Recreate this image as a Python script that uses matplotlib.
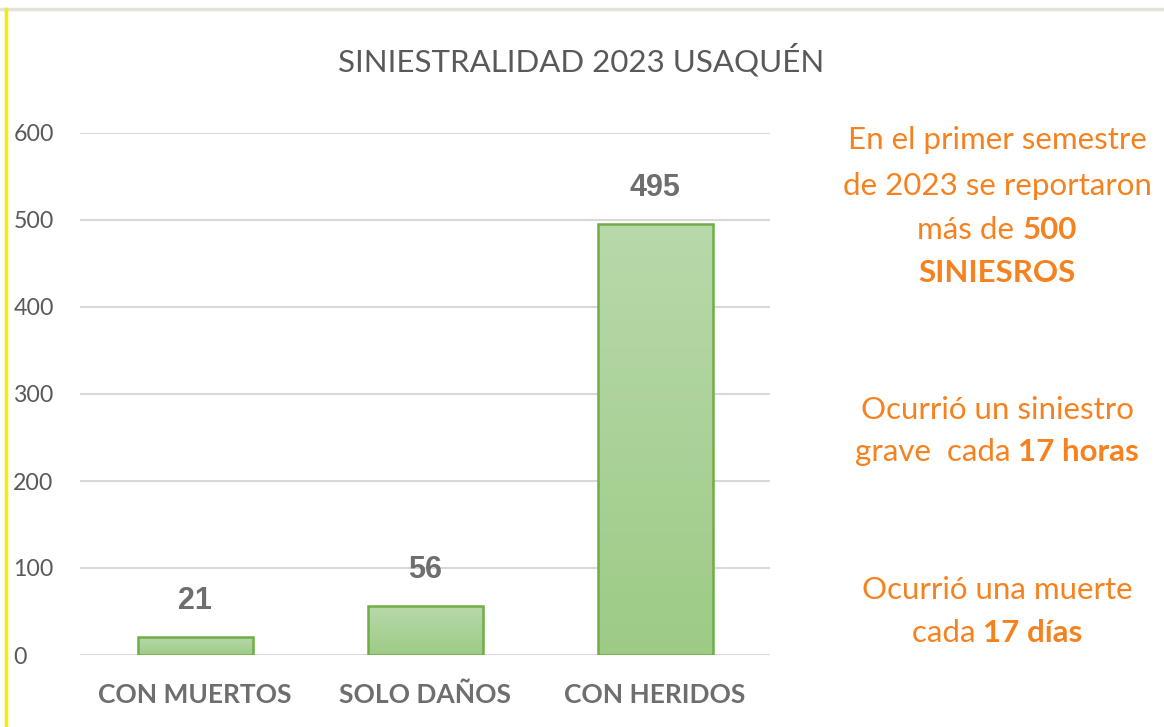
import numpy as np
import matplotlib.pyplot as plt
from matplotlib.lines import Line2D
from matplotlib.colors import LinearSegmentedColormap

categories = ['CON MUERTOS', 'SOLO DAÑOS', 'CON HERIDOS']
values = [21, 56, 495]
yticks = [0, 100, 200, 300, 400, 500, 600]
title = 'SINIESTRALIDAD 2023 USAQUÉN'

# right side notes: list of lines, each line a list of (text, bold)
notes = [
    [('En el primer semestre', False)],
    [('de 2023 se reportaron', False)],
    [('más de ', False), ('500', True)],
    [('SINIESROS', True)],
    [('Ocurrió un siniestro', False)],
    [('grave  cada ', False), ('17 horas', True)],
    [('Ocurrió una muerte', False)],
    [('cada ', False), ('17 días', True)],
]
note_y = [140, 186, 230, 273, 410, 452, 590, 633]  # pixel centres from top

gray = '#595959'
orange = '#F5821F'
font = 'Lato'

fig = plt.figure(figsize=(11.64, 7.27), dpi=100)
W, H = 1164, 727
ax = fig.add_axes([80 / W, 72 / H, 690 / W, 522 / H])

x = np.arange(len(categories))
bars = ax.bar(x, values, width=0.5, color='none', edgecolor='#70AD47', linewidth=1.8, zorder=3)

cmap = LinearSegmentedColormap.from_list('g', ['#9DCB86', '#B8D9AA'])
grad = np.linspace(0, 1, 256).reshape(-1, 1)
for b in bars:
    x0, y0 = b.get_x(), b.get_y()
    im = ax.imshow(grad, cmap=cmap, origin='lower', aspect='auto',
                   extent=[x0, x0 + b.get_width(), y0, y0 + b.get_height()], zorder=2)
    im.set_clip_path(b)
ax.set_xlim(-0.5, 2.5)
ax.set_ylim(0, 600)

for xi, v in zip(x, values):
    ax.annotate(str(v), (xi, v), xytext=(0, 36), textcoords='offset pixels',
                ha='center', va='center', fontsize=22, fontweight='bold',
                color='#6E6E6E', family='Liberation Sans')

ax.set_yticks(yticks)
ax.yaxis.grid(True, color='#D9D9D9', linewidth=1.5, zorder=0)
ax.set_axisbelow(True)
for s in ax.spines.values():
    s.set_visible(False)
ax.tick_params(length=0)
ax.tick_params(axis='y', pad=48, labelsize=16.7, labelcolor=gray)
for lab in ax.get_yticklabels():
    lab.set_horizontalalignment('left')
    lab.set_family(font)
ax.set_xticks(x)
ax.set_xticklabels(categories, fontsize=19, fontweight='bold', color='#6E6E6E', family=font)
ax.tick_params(axis='x', pad=20)

fig.text(581 / W, 1 - 60 / H, title, ha='center', va='center', fontsize=22.5,
         color=gray, family=font)

# frame decorations
fig.add_artist(Line2D([0, 1], [1 - 9 / H, 1 - 9 / H], color='#E3E3DA', linewidth=2.5))
fig.add_artist(Line2D([6 / W, 6 / W], [0, 1 - 9 / H], color='#F2F000', linewidth=2.5))

# mixed weight lines
fig.canvas.draw()
r = fig.canvas.get_renderer()
cx = 997
for line, yy in zip(notes, note_y):
    parts = []
    for txt, bold in line:
        t = fig.text(0, 1 - yy / H, txt, ha='left', va='center', fontsize=22.5,
                     color=orange, family=font, fontweight='bold' if bold else 'normal')
        parts.append(t)
    widths = [p.get_window_extent(r).width for p in parts]
    left = cx - sum(widths) / 2
    for p, w in zip(parts, widths):
        p.set_x(left / W)
        left += w

fig.savefig('out.png', dpi=100, facecolor='white')
